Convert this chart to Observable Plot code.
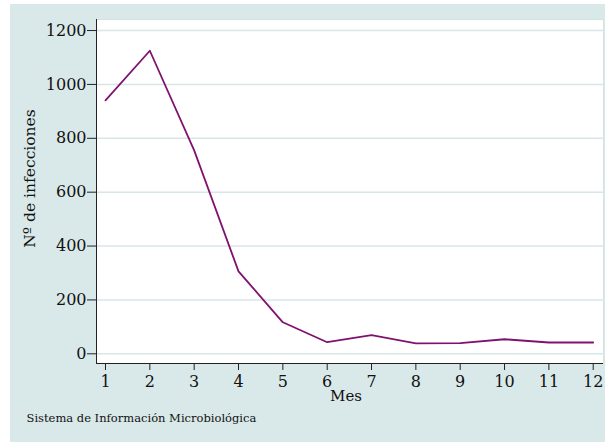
<!DOCTYPE html>
<html><head><meta charset="utf-8">
<script src="https://cdn.jsdelivr.net/npm/d3@7"></script>
<script src="https://cdn.jsdelivr.net/npm/@observablehq/plot@0.6"></script>
<style>html,body{margin:0;padding:0;background:#fff;} svg{display:block}</style>
</head><body><div id="chart"></div>
<script>
const meses = [1,2,3,4,5,6,7,8,9,10,11,12];
const infecciones = [941,1125,755,306,117,43,69,39,40,54,42,42];
const yTicks = [0,200,400,600,800,1000,1200];
const xTicks = [1,2,3,4,5,6,7,8,9,10,11,12];
const yTitle = "Nº de infecciones";
const xTitle = "Mes";
const fuente = "Sistema de Información Microbiológica";

const data = meses.map((m, i) => ({mes: m, n: infecciones[i]}));
const font = "'DejaVu Serif', serif";
const ink = "#111";

const chart = Plot.plot({
  width: 605, height: 442,
  marginLeft: 96, marginRight: 2, marginTop: 19, marginBottom: 79,
  style: {fontFamily: font, background: "transparent", color: ink, overflow: "visible"},
  x: {domain: [0.797, 12.232]},
  y: {domain: [-36, 1241]},
  marks: [
    Plot.frame({fill: "white", stroke: "#d3e3e4"}),
    Plot.gridY(yTicks, {stroke: "#d8e6e8", strokeOpacity: 1, strokeWidth: 1.5}),
    Plot.ruleX([0.797], {stroke: "#222"}),
    Plot.ruleY([-36], {stroke: "#222"}),
    Plot.axisY(yTicks, {tickSize: 9, tickPadding: 1, fontSize: 16, label: null, stroke: "#222", tickFormat: d3.format("d")}),
    Plot.axisX(xTicks, {tickSize: 7, tickPadding: 5, fontSize: 16, label: null, stroke: "#222", tickFormat: d3.format("d")}),
    Plot.line(data, {x: "mes", y: "n", stroke: "#80126f", strokeWidth: 1.8}),
    Plot.text([yTitle], {text: d => d, frameAnchor: "left", textAnchor: "middle", rotate: -90, dx: -66, dy: -13, fontSize: 15.5, fill: ink}),
    Plot.text([xTitle], {text: d => d, frameAnchor: "bottom", textAnchor: "middle", lineAnchor: "top", dx: -4, dy: 27, fontSize: 15, fill: ink}),
    Plot.text([fuente], {text: d => d, frameAnchor: "bottom-left", textAnchor: "start", lineAnchor: "top", dx: -70, dy: 50, fontSize: 11.5, fill: ink})
  ]
});

d3.select(chart).insert("rect", ":first-child")
  .attr("x", 10).attr("y", 4).attr("width", 595).attr("height", 438)
  .attr("fill", "#d9e9e9");

document.getElementById("chart").appendChild(chart);
</script>
</body></html>
